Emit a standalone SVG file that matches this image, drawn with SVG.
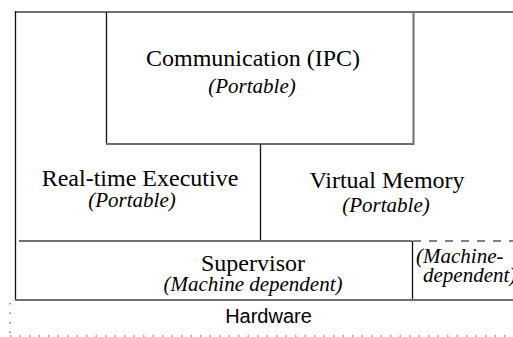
<svg xmlns="http://www.w3.org/2000/svg" width="513" height="337" viewBox="0 0 513 337">
<style>
.t{font-family:"Liberation Serif","Times New Roman",serif;font-size:24px;fill:#000;text-anchor:middle}
.i{font-family:"Liberation Serif","Times New Roman",serif;font-size:21px;font-style:italic;fill:#000;text-anchor:middle}
.h{font-family:"Liberation Sans",Arial,sans-serif;font-size:20px;fill:#000;text-anchor:middle}
.g{stroke:#707070;stroke-width:2;fill:none}
.k{stroke:#111;stroke-width:1.3;fill:none}
.d{stroke:#808080;stroke-width:2;stroke-dasharray:8 8;fill:none}
.o{stroke:#555;stroke-width:1.2;stroke-dasharray:1.5 8;fill:none}
</style>
<rect width="513" height="337" fill="#fff"/>
<g id="connectors">
<line class="g" x1="15" y1="12" x2="513" y2="12"/>
<line class="k" x1="15.5" y1="11" x2="15.5" y2="300"/>
<line class="k" x1="106.5" y1="12" x2="106.5" y2="144"/>
<line class="g" x1="106" y1="144" x2="414" y2="144"/>
<line class="g" x1="413.5" y1="12" x2="413.5" y2="145"/>
<line class="k" x1="260.5" y1="144" x2="260.5" y2="241"/>
<line class="g" x1="19" y1="241" x2="412" y2="241"/>
<line class="d" x1="413" y1="241" x2="513" y2="241"/>
<line class="k" x1="412.5" y1="241" x2="412.5" y2="299"/>
<line class="g" x1="15" y1="300" x2="513" y2="300"/>
<line class="o" x1="10" y1="303" x2="10" y2="337"/>
<line class="o" x1="10" y1="336" x2="513" y2="336"/>
</g>
<g id="ipc">
<text class="t" x="253" y="66">Communication (IPC)</text>
<text class="i" x="252" y="93">(Portable)</text>
</g>
<g id="rte">
<text class="t" x="140" y="186">Real-time Executive</text>
<text class="i" x="132" y="207">(Portable)</text>
</g>
<g id="vm">
<text class="t" x="387" y="188">Virtual Memory</text>
<text class="i" x="386" y="212">(Portable)</text>
</g>
<g id="supervisor">
<text class="t" x="253" y="271">Supervisor</text>
<text class="i" x="253" y="291">(Machine dependent)</text>
</g>
<g id="md">
<text class="i" x="416" y="263" style="text-anchor:start">(Machine-</text>
<text class="i" x="423" y="282" style="text-anchor:start">dependent)</text>
</g>
<g id="hardware">
<text class="h" x="268.5" y="323">Hardware</text>
</g>
</svg>
